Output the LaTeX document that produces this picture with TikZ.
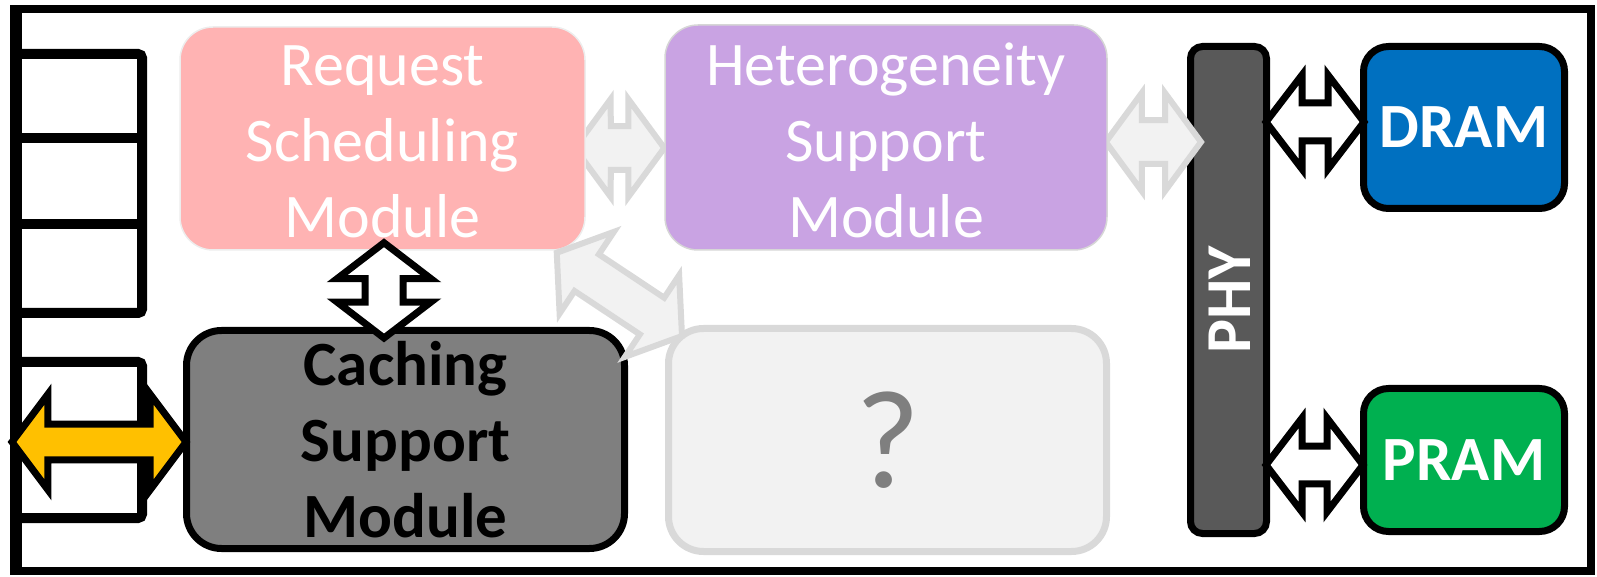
\documentclass[tikz,border=0pt]{standalone}
\usepackage{fontspec}
\setmainfont{Carlito}
\usetikzlibrary{calc}

\definecolor{reqpink}{RGB}{255,179,179}
\definecolor{hetpurple}{RGB}{201,163,227}
\definecolor{cachegray}{RGB}{127,127,127}
\definecolor{qfill}{RGB}{242,242,242}
\definecolor{qline}{RGB}{217,217,217}
\definecolor{qmark}{RGB}{127,127,127}
\definecolor{phygray}{RGB}{89,89,89}
\definecolor{dramblue}{RGB}{0,112,192}
\definecolor{pramgreen}{RGB}{0,176,80}
\definecolor{busyellow}{RGB}{255,192,0}

\pgfdeclarelayer{under}
\pgfdeclarelayer{between}
\pgfsetlayers{under,between,main}

% Double-headed block arrow between two tip coordinates:
% #1 style, #2 first tip, #3 second tip, #4 head length, #5 head half width, #6 shaft half width (all in px)
\newcommand\blockarrow[6][]{%
  \pgfmathsetmacro\baHr{veclen(#4,#5)*0.5}%
  \pgfmathsetmacro\baHa{atan2(#5,#4)}%
  \pgfmathsetmacro\baSr{veclen(#4,#6)*0.5}%
  \pgfmathsetmacro\baSa{atan2(#6,#4)}%
  \draw[#1] (#2) -- ($(#2)!\baHr pt!\baHa:(#3)$) -- ($(#2)!\baSr pt!\baSa:(#3)$)
    -- ($(#3)!\baSr pt!-\baSa:(#2)$) -- ($(#3)!\baHr pt!-\baHa:(#2)$) -- (#3)
    -- ($(#3)!\baHr pt!\baHa:(#2)$) -- ($(#3)!\baSr pt!\baSa:(#2)$)
    -- ($(#2)!\baSr pt!-\baSa:(#3)$) -- ($(#2)!\baHr pt!-\baHa:(#3)$) -- cycle;}

\tikzset{
  box/.style={rectangle, inner sep=0pt, align=center},
  softbox/.style={box, line width=0.75pt, rounded corners=16.5pt},
  softtext/.style={align=center, inner sep=0pt, text=white,
    font=\fontsize{31pt}{38pt}\selectfont},
  hardbox/.style={box, draw=black, line width=3.5pt},
  boldtext/.style={font=\fontsize{31.5pt}{38pt}\selectfont\bfseries},
  queue/.style={line width=5pt, rounded corners=2pt},
  darkarrow/.style={fill=white, draw=black, line width=3.5pt, line join=miter},
  lightarrow/.style={fill=qfill, draw=qline, line width=3pt, line join=miter},
  busarrow/.style={fill=busyellow, draw=black, line width=3.5pt, line join=miter},
}

\begin{document}
\begin{tikzpicture}[x=0.5pt,y=-0.5pt]
\useasboundingbox (0,0) rectangle (1597,577);

% outer frame, thicker on the queue side
\draw[line width=4pt] (14,9) rectangle (1591,571);
\draw[line width=6pt] (16,9) -- (16,571);

% request queue slots
\draw[queue] (16,54) -- (142,54) -- (142,313) -- (16,313);
\draw[queue] (16,138) -- (142,138);
\draw[queue] (16,224) -- (142,224);
\draw[queue] (16,362) -- (142,362) -- (142,518) -- (16,518);
\draw[queue] (16,440) -- (142,440);
\coordinate (qin) at (12,442);

% controller modules
\node[softbox, draw=black!7, fill=reqpink, minimum width=202.5pt, minimum height=111.5pt]
  (req) at (382.5,138.5) {};
\node[softtext] (reqtext) at ($(req.center)+(0,3)$) {Request\\Scheduling\\Module};
\node[softbox, draw=black!16, fill=hetpurple, minimum width=221pt, minimum height=112.5pt]
  (het) at (886,137.5) {};
\node[softtext] (hettext) at ($(het.center)+(0,3)$) {Heterogeneity\\Support\\Module};
\node[hardbox, boldtext, fill=cachegray, rounded corners=17.5pt,
  minimum width=219pt, minimum height=109pt]
  (cache) at (405.5,439.5) {Caching\\Support\\Module};
\node[box, draw=qline, line width=3.5pt, fill=qfill, rounded corners=17.5pt,
  minimum width=219pt, minimum height=111.5pt, text=qmark,
  font=\fontsize{70pt}{80pt}\selectfont]
  (qbox) at (887.5,440) {?};

% physical interface
\begin{pgfonlayer}{under}
\node[hardbox, fill=phygray, rounded corners=6pt,
  minimum width=38pt, minimum height=243.5pt] (phy) at (1228.5,290) {};
\end{pgfonlayer}
\node[text=white, rotate=90, font=\fontsize{32pt}{38pt}\selectfont\bfseries]
  (phylabel) at ($(phy.center)+(1.5,10)$) {PHY};

% memory devices
\node[hardbox, boldtext, fill=dramblue, text=white, rounded corners=12.5pt,
  minimum width=100.5pt, minimum height=81pt] (dram) at (1464,127.5) {DRAM};
\node[hardbox, boldtext, fill=pramgreen, text=white, rounded corners=12.5pt,
  minimum width=100.5pt, minimum height=71.5pt] (pram) at (1464,460) {PRAM};

% arrow end points
\coordinate (rh1) at ($(req.east)+(-11,9.5)$);
\coordinate (rh2) at (het.west |- rh1);
\coordinate (hp1) at ($(het.east)+(-2,4.5)$);
\coordinate (hp2) at ($(phy.west |- hp1)+(14,0)$);
\coordinate (dg1) at ($(req.south east)+(-29,2)$);
\coordinate (dg2) at ($(qbox.north west)+(17,11)$);
\coordinate (rc1) at ($(req.south)+(1.5,-8)$);
\coordinate (rc2) at ($(rc1 |- cache.north)+(0,11)$);
\coordinate (cw) at ($(cache.west)+(3,2.5)$);
\coordinate (pd1) at ($(phy.east |- dram.west)+(-4,-5.5)$);
\coordinate (pd2) at ($(dram.west)+(4,-5.5)$);
\coordinate (pp1) at ($(phy.east |- pram.west)+(-4,5)$);
\coordinate (pp2) at ($(pram.west)+(3,5)$);

% connectors
\begin{pgfonlayer}{under}
\blockarrow[lightarrow]{rh1}{rh2}{36}{49}{22}
\end{pgfonlayer}
\begin{pgfonlayer}{between}
\blockarrow[lightarrow]{hp1}{hp2}{36}{49}{22}
\end{pgfonlayer}
\blockarrow[lightarrow]{dg1}{dg2}{36}{49}{22}
\blockarrow[busarrow]{qin}{cw}{36}{48}{18}
\blockarrow[darkarrow]{rc1}{rc2}{36}{47}{19}
\blockarrow[darkarrow]{pd1}{pd2}{36}{47}{19}
\blockarrow[darkarrow]{pp1}{pp2}{36}{47}{19}
\end{tikzpicture}
\end{document}
